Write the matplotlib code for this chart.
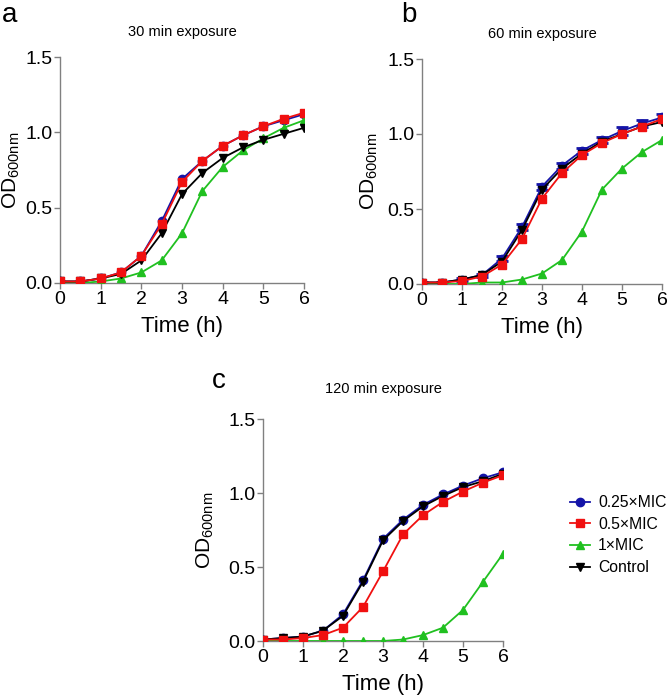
import numpy as np
import matplotlib
matplotlib.use("Agg")
import matplotlib.pyplot as plt

plt.rcParams['font.family'] = ['Liberation Sans', 'DejaVu Sans']

time_h = [0, 0.5, 1, 1.5, 2, 2.5, 3, 3.5, 4, 4.5, 5, 5.5, 6]
labels = ['0.25×MIC', '0.5×MIC', '1×MIC', 'Control']
colors = ['#1414a8', '#f01010', '#20c020', '#000000']
markers = ['o', 's', '^', 'v']

# panel a: 30 min exposure
a_025 = [0.01, 0.01, 0.03, 0.07, 0.18, 0.41, 0.69, 0.81, 0.91, 0.98, 1.04, 1.08, 1.12]
a_05 = [0.01, 0.01, 0.03, 0.07, 0.18, 0.39, 0.67, 0.81, 0.91, 0.98, 1.04, 1.09, 1.13]
a_1 = [0.0, 0.0, 0.01, 0.03, 0.07, 0.15, 0.33, 0.61, 0.77, 0.88, 0.96, 1.03, 1.08]
a_ctl = [0.01, 0.01, 0.03, 0.06, 0.15, 0.33, 0.59, 0.73, 0.83, 0.90, 0.95, 0.99, 1.03]

# panel b: 60 min exposure
b_025 = [0.01, 0.01, 0.03, 0.06, 0.17, 0.38, 0.65, 0.79, 0.89, 0.96, 1.02, 1.07, 1.11]
b_05 = [0.01, 0.01, 0.02, 0.05, 0.13, 0.30, 0.57, 0.74, 0.86, 0.94, 1.00, 1.05, 1.10]
b_1 = [0.0, 0.0, 0.0, 0.01, 0.01, 0.03, 0.07, 0.16, 0.35, 0.63, 0.77, 0.88, 0.96]
b_ctl = [0.01, 0.01, 0.03, 0.06, 0.15, 0.36, 0.63, 0.77, 0.87, 0.95, 1.00, 1.05, 1.08]
b_err = [0.005, 0.005, 0.01, 0.01, 0.015, 0.02, 0.02, 0.02, 0.02, 0.02, 0.025, 0.025, 0.025]

# panel c: 120 min exposure
c_025 = [0.01, 0.02, 0.03, 0.07, 0.18, 0.41, 0.69, 0.82, 0.92, 0.99, 1.05, 1.10, 1.14]
c_05 = [0.01, 0.01, 0.02, 0.04, 0.09, 0.23, 0.47, 0.72, 0.85, 0.94, 1.01, 1.07, 1.12]
c_1 = [0.0, 0.0, 0.0, 0.0, 0.0, 0.0, 0.0, 0.01, 0.04, 0.09, 0.21, 0.40, 0.59]
c_ctl = [0.01, 0.02, 0.03, 0.07, 0.17, 0.40, 0.68, 0.81, 0.91, 0.98, 1.04, 1.08, 1.13]

W, H = 668, 696
fig = plt.figure(figsize=(W / 100, H / 100), dpi=100)


def add_axes(x0, x1, ytop, ybot):
    return fig.add_axes([x0 / W, 1 - ybot / H, (x1 - x0) / W, (ybot - ytop) / H])


def draw_panel(ax, series, title, title_y, ylab_x, errs=None):
    for i, ys in enumerate(series):
        ax.plot(time_h, ys, color=colors[i], marker=markers[i], markersize=6,
                linewidth=1.3, label=labels[i], zorder=3 + (i == 1))
        if errs is not None and i == 0:
            ax.errorbar(time_h, ys, yerr=errs, fmt='none', ecolor=colors[i],
                        elinewidth=1.5, capsize=4, capthick=2, zorder=2)
    ax.set_xlim(0, 6)
    ax.set_ylim(0, 1.5)
    ax.set_xticks(range(7))
    ax.set_yticks([0, 0.5, 1.0, 1.5])
    ax.set_yticklabels(['0.0', '0.5', '1.0', '1.5'])
    for s in ['top', 'right']:
        ax.spines[s].set_visible(False)
    for s in ['left', 'bottom']:
        ax.spines[s].set_color('#808080')
        ax.spines[s].set_linewidth(1.0)
    ax.tick_params(direction='out', length=4, width=1, color='#808080',
                   labelsize=14, pad=1.5)
    ax.set_xlabel('Time (h)', fontsize=16, labelpad=6)
    ax.set_ylabel('OD$_{\\mathregular{600nm}}$', fontsize=15)
    ax.yaxis.set_label_coords(ylab_x, 0.5)
    ax.text(0.5, title_y, title, transform=ax.transAxes, ha='center',
            va='center', fontsize=10.5)


ax_a = add_axes(60, 304, 57, 283)
draw_panel(ax_a, [a_025, a_05, a_1, a_ctl], '30 min exposure', 1.11, -0.155)
ax_b = add_axes(422, 662, 59, 284)
draw_panel(ax_b, [b_025, b_05, b_1, b_ctl], '60 min exposure', 1.11, -0.175,
           errs=b_err)
ax_c = add_axes(263, 503, 419, 641)
draw_panel(ax_c, [c_025, c_05, c_1, c_ctl], '120 min exposure', 1.135, -0.195)

ax_c.legend(loc='center left', bbox_to_anchor=(1.22, 0.477), frameon=False,
            fontsize=11.3, handlelength=1.3, handletextpad=0.5, labelspacing=0.42)

fig.text(2 / W, 1 - 15 / H, 'a', fontsize=20, va='center', ha='left')
fig.text(401 / W, 1 - 15 / H, 'b', fontsize=20, va='center', ha='left')
fig.text(212 / W, 1 - 381 / H, 'c', fontsize=20, va='center', ha='left')

fig.savefig('out.png', dpi=100)
